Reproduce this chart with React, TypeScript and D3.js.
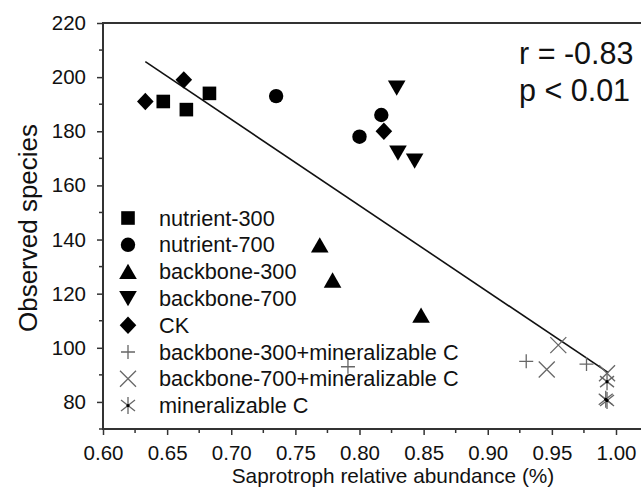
import React, { useRef, useEffect } from "react";
import * as d3 from "d3";

// group names in legend order
const groups = [
  "nutrient-300",
  "nutrient-700",
  "backbone-300",
  "backbone-700",
  "CK",
  "backbone-300+mineralizable C",
  "backbone-700+mineralizable C",
  "mineralizable C",
];

// [saprotroph abundance, observed species] per group
const nutrient300 = [[0.647, 191], [0.665, 188], [0.683, 194]];
const nutrient700 = [[0.735, 193], [0.8, 178], [0.817, 186]];
const backbone300 = [[0.769, 138], [0.779, 125], [0.848, 112]];
const backbone700 = [[0.829, 196], [0.83, 172], [0.843, 169]];
const ck = [[0.633, 191], [0.663, 199], [0.819, 180]];
const backbone300MinC = [[0.791, 93], [0.93, 95], [0.977, 94]];
const backbone700MinC = [[0.955, 101], [0.946, 92], [0.993, 90.6]];
const mineralizableC = [[0.993, 87.5], [0.993, 80.5], [0.992, 81]];

const seriesValues = [
  nutrient300,
  nutrient700,
  backbone300,
  backbone700,
  ck,
  backbone300MinC,
  backbone700MinC,
  mineralizableC,
];

// fitted line end points
const fitLine = [[0.633, 205.7], [0.994, 90.8]];

const xTicks = [0.6, 0.65, 0.7, 0.75, 0.8, 0.85, 0.9, 0.95, 1.0];
const yTicks = [80, 100, 120, 140, 160, 180, 200, 220];

const markerKinds = ["square", "circle", "triangle", "down", "diamond", "plus", "cross", "star"];

const markerPath = (kind) => {
  switch (kind) {
    case "square":
      return "M-6.8,-6.8H6.8V6.8H-6.8Z";
    case "circle":
      return "M7.2,0A7.2,7.2 0 1,1 -7.2,0A7.2,7.2 0 1,1 7.2,0Z";
    case "triangle":
      return "M0,-7.8L8.8,7.5L-8.8,7.5Z";
    case "down":
      return "M0,7.8L8.8,-7.5L-8.8,-7.5Z";
    case "diamond":
      return "M0,-8.7L8.3,0L0,8.7L-8.3,0Z";
    case "plus":
      return "M-7,0H7M0,-7V7";
    case "cross":
      return "M-8,-8L8,8M-8,8L8,-8";
    case "star":
      return "M0,-8.5V8.5M-7,-5.5L7,5.5M-7,5.5L7,-5.5";
    default:
      return "";
  }
};

const isLine = (k) => k === "plus" || k === "cross" || k === "star";

const App = () => {
  const svgRef = useRef(null);
  const width = 641;
  const height = 503;
  const margin = { top: 23, right: 0, bottom: 74, left: 103 };

  useEffect(() => {
    const svg = d3.select(svgRef.current);
    svg.selectAll("*").remove();

    const x = d3
      .scaleLinear()
      .domain([0.6, 1.0])
      .range([margin.left, 616]);
    const y = d3
      .scaleLinear()
      .domain([70, 220])
      .range([height - margin.bottom, margin.top]);

    const axisColor = "#333";
    const font = "'Liberation Sans', Arial, sans-serif";

    // frame: top, left, bottom
    const frame = svg.append("g").attr("stroke", axisColor).attr("stroke-width", 2);
    frame
      .append("line")
      .attr("x1", margin.left)
      .attr("x2", width)
      .attr("y1", y(220))
      .attr("y2", y(220));
    frame
      .append("line")
      .attr("x1", margin.left)
      .attr("x2", width)
      .attr("y1", y(70))
      .attr("y2", y(70));
    frame
      .append("line")
      .attr("x1", margin.left)
      .attr("x2", margin.left)
      .attr("y1", y(220) - 1)
      .attr("y2", y(70) + 1);

    // x axis
    const xAxis = d3
      .axisBottom(x)
      .tickValues(xTicks)
      .tickFormat(d3.format(".2f"))
      .tickSize(6)
      .tickPadding(10);
    const gx = svg
      .append("g")
      .attr("transform", `translate(0,${y(70)})`)
      .call(xAxis);
    gx.select(".domain").remove();
    gx.selectAll(".tick line").attr("stroke", axisColor).attr("stroke-width", 1.5);
    gx.selectAll(".tick text")
      .attr("fill", "#111")
      .style("font-family", font)
      .style("font-size", "20.5px");
    // minor x ticks
    svg
      .append("g")
      .selectAll("line")
      .data(xTicks.slice(0, -1).map((d) => d + 0.025).concat([1.025]))
      .join("line")
      .attr("x1", (d) => x(d))
      .attr("x2", (d) => x(d))
      .attr("y1", y(70))
      .attr("y2", y(70) + 4)
      .attr("stroke", axisColor)
      .attr("stroke-width", 1.5);

    // y axis
    const yAxis = d3.axisLeft(y).tickValues(yTicks).tickSize(6).tickPadding(11);
    const gy = svg
      .append("g")
      .attr("transform", `translate(${margin.left},0)`)
      .call(yAxis);
    gy.select(".domain").remove();
    gy.selectAll(".tick line").attr("stroke", axisColor).attr("stroke-width", 1.5);
    gy.selectAll(".tick text")
      .attr("fill", "#111")
      .style("font-family", font)
      .style("font-size", "20.5px");
    svg
      .append("g")
      .selectAll("line")
      .data(yTicks.map((d) => d - 10))
      .join("line")
      .attr("x1", margin.left)
      .attr("x2", margin.left - 4)
      .attr("y1", (d) => y(d))
      .attr("y2", (d) => y(d))
      .attr("stroke", axisColor)
      .attr("stroke-width", 1.5);

    // axis titles
    svg
      .append("text")
      .attr("x", 393)
      .attr("y", 483)
      .attr("text-anchor", "middle")
      .style("font-family", font)
      .style("font-size", "20.8px")
      .attr("fill", "#111")
      .text("Saprotroph relative abundance (%)");
    svg
      .append("text")
      .attr("transform", `translate(37,228) rotate(-90)`)
      .attr("text-anchor", "middle")
      .style("font-family", font)
      .style("font-size", "26px")
      .attr("fill", "#111")
      .text("Observed species");

    // fit line
    svg
      .append("path")
      .attr("d", d3.line().x((d) => x(d[0])).y((d) => y(d[1]))(fitLine))
      .attr("stroke", "#111")
      .attr("stroke-width", 1.6)
      .attr("fill", "none");

    // points
    seriesValues.forEach((values, i) => {
      const kind = markerKinds[i];
      const g = svg.append("g");
      g.selectAll("path")
        .data(values)
        .join("path")
        .attr("transform", (d) => `translate(${x(d[0])},${y(d[1])})`)
        .attr("d", markerPath(kind))
        .attr("fill", isLine(kind) ? "none" : "#000")
        .attr("stroke", isLine(kind) ? "#666" : "none")
        .attr("stroke-width", 1.3);
      if (kind === "star") {
        g.selectAll("circle")
          .data(values)
          .join("circle")
          .attr("cx", (d) => x(d[0]))
          .attr("cy", (d) => y(d[1]))
          .attr("r", 1.6)
          .attr("fill", "#000");
      }
    });

    // legend
    const legend = svg.append("g");
    groups.forEach((name, i) => {
      const kind = markerKinds[i];
      const ly = 218 + i * 26.8;
      legend
        .append("path")
        .attr("transform", `translate(128,${ly})`)
        .attr("d", markerPath(kind))
        .attr("fill", isLine(kind) ? "none" : "#000")
        .attr("stroke", isLine(kind) ? "#666" : "none")
        .attr("stroke-width", 1.3);
      if (kind === "star") {
        legend.append("circle").attr("cx", 128).attr("cy", ly).attr("r", 1.6).attr("fill", "#000");
      }
      legend
        .append("text")
        .attr("x", 159)
        .attr("y", ly + 7.5)
        .style("font-family", font)
        .style("font-size", "21.7px")
        .attr("fill", "#111")
        .text(name);
    });

    // stats
    svg
      .append("text")
      .attr("x", 519)
      .attr("y", 63.5)
      .style("font-family", font)
      .style("font-size", "30.5px")
      .attr("fill", "#111")
      .text("r = -0.83");
    svg
      .append("text")
      .attr("x", 519)
      .attr("y", 100.5)
      .style("font-family", font)
      .style("font-size", "30.5px")
      .attr("fill", "#111")
      .text("p < 0.01");
  }, []);

  return (
    <svg
      ref={svgRef}
      width={width}
      height={height}
      style={{ position: "absolute", left: 0, top: 0, background: "#fff" }}
    ></svg>
  );
};

export default App;
